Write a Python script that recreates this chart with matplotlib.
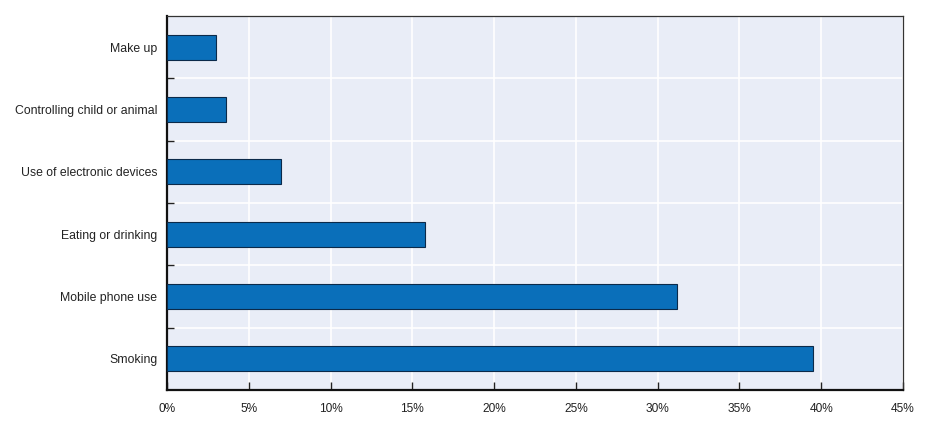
import matplotlib.pyplot as plt
from matplotlib.ticker import MultipleLocator, FixedLocator, NullFormatter

# Data
categories = ['Make up', 'Controlling child or animal', 'Use of electronic devices',
              'Eating or drinking', 'Mobile phone use', 'Smoking']
values = [3.0, 3.6, 7.0, 15.8, 31.2, 39.5]

plt.rcParams['font.family'] = ['Liberation Sans Narrow', 'Liberation Sans', 'DejaVu Sans']

fig = plt.figure(figsize=(9.28, 4.24), dpi=100)
ax = fig.add_axes([167 / 928, 1 - 390 / 424, (903 - 167) / 928, (390 - 16) / 424])
ax.set_facecolor('#e9edf7')

y = list(range(len(categories)))
ax.barh(y, values, height=0.4, color='#0a6fba', edgecolor='#0b2a4a', linewidth=0.8, zorder=3)

ax.set_xlim(0, 45)
ax.set_ylim(len(categories) - 0.5, -0.5)

# x-axis
ax.xaxis.set_major_locator(MultipleLocator(5))
ax.set_xticklabels([f'{int(t)}%' for t in ax.get_xticks()])
ax.tick_params(axis='x', direction='in', length=6, width=1, color='#222222',
               labelsize=8.6, labelcolor='#222222', pad=9)

# y-axis: labels at bars, ticks at boundaries
ax.set_yticks(y)
ax.set_yticklabels(categories)
ax.tick_params(axis='y', which='major', length=0, labelsize=8.8, labelcolor='#222222', pad=7)
ax.yaxis.set_minor_locator(FixedLocator([i + 0.5 for i in range(len(categories) - 1)]))
ax.yaxis.set_minor_formatter(NullFormatter())
ax.tick_params(axis='y', which='minor', direction='in', length=5, width=1, color='#222222')

# Grid
ax.set_axisbelow(True)
ax.grid(True, axis='x', which='major', color='white', linewidth=1.2)
ax.grid(True, axis='y', which='minor', color='white', linewidth=1.2)

# Spines
for side in ['left', 'bottom']:
    ax.spines[side].set_linewidth(1.6)
    ax.spines[side].set_color('#111111')
for side in ['top', 'right']:
    ax.spines[side].set_linewidth(0.9)
    ax.spines[side].set_color('#333333')

fig.savefig('out.png', dpi=100)
